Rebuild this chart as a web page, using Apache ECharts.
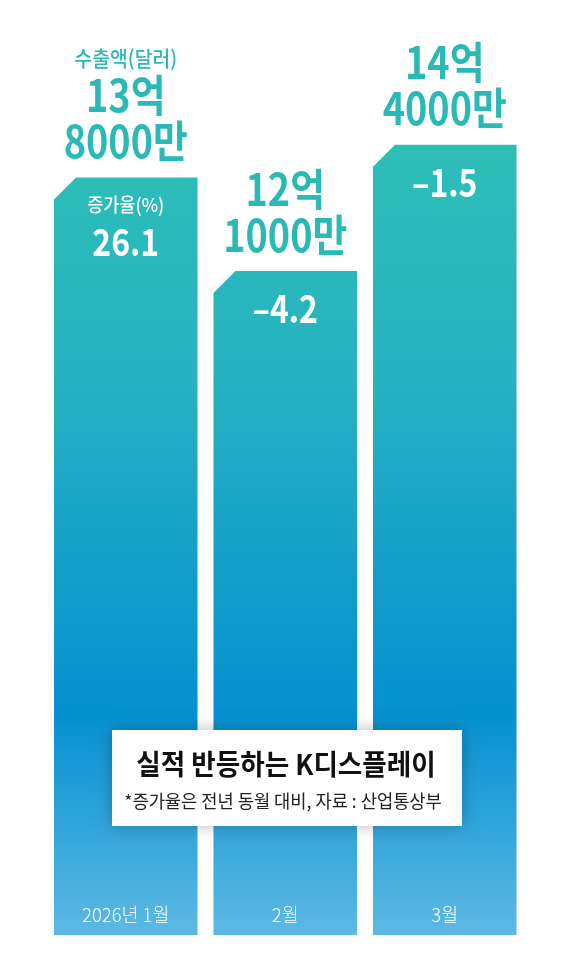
<!DOCTYPE html>
<html>
<head>
<meta charset="utf-8">
<script src="https://cdn.jsdelivr.net/npm/echarts@6/dist/echarts.min.js"></script>
</head>
<body style="margin:0;background:#fff;">
<div id="main" style="width:570px;height:975px;"></div>
<script type="text/javascript">
// 데이터
var categories = ['2026년 1월', '2월', '3월'];
var exportValues = [13.8, 12.1, 14.4];          // 억 달러
var exportEok = ['13억', '12억', '14억'];
var exportMan = ['8000만', '1000만', '4000만'];
var growthRates = [26.1, -4.2, -1.5];          // %

var FONT = '"Noto Sans CJK KR", "Noto Sans", sans-serif';
var TEAL = '#2ab9b5';

var barFill = new echarts.graphic.LinearGradient(0, 145, 0, 935, [
    {offset: 0, color: '#2dbeb7'},
    {offset: 0.3, color: '#26b2c2'},
    {offset: 0.72, color: '#0590d0'},
    {offset: 1, color: '#5db9e4'}
], true);

function fmtRate(v) {
    return v < 0 ? '\u2013' + Math.abs(v) : String(v);
}

function renderBar(params, api) {
    var i = params.dataIndex;
    var top = api.coord([api.value(0), api.value(1)]);
    var base = api.coord([api.value(0), 0]);
    var w = api.size([1, 0])[0] * 0.9;
    var cx = top[0], x0 = cx - w / 2, x1 = cx + w / 2;
    var yt = top[1], yb = base[1];
    var c = 22;
    var kids = [{
        type: 'polygon',
        shape: {points: [[x0, yt + c], [x0 + c, yt], [x1, yt], [x1, yb], [x0, yb]]},
        style: {fill: barFill}
    }];
    function txt(s, y, font, color, sx) {
        kids.push({
            type: 'text', x: cx, y: y, scaleX: sx || 1,
            style: {text: s, font: font, fill: color, textAlign: 'center', textVerticalAlign: 'middle'}
        });
    }
    // 수출액
    if (i === 0) txt('수출액(달러)', yt - 120, '500 21px ' + FONT, TEAL, 0.92);
    txt(exportEok[i], yt - 82, 'bold 44px ' + FONT, TEAL, 0.86);
    txt(exportMan[i], yt - 36, 'bold 44px ' + FONT, TEAL, 0.86);
    // 증가율
    if (i === 0) {
        txt('증가율(%)', yt + 27, '500 19px ' + FONT, '#fff', 0.92);
        txt(fmtRate(growthRates[i]), yt + 64, 'bold 38px ' + FONT, '#fff', 0.84);
    } else {
        txt(fmtRate(growthRates[i]), yt + 38, 'bold 38px ' + FONT, '#fff', 0.84);
    }
    // 월
    txt(categories[i], yb - 20, '300 19px ' + FONT, '#fff', 0.97);
    return {type: 'group', children: kids};
}

var myChart = echarts.init(document.getElementById('main'));
var option = {
    animation: false,
    grid: {left: 46, right: 45.5, top: 2, bottom: 40},
    xAxis: {type: 'category', data: categories, show: false},
    yAxis: {type: 'value', min: 0, max: 17, show: false},
    series: [{
        type: 'custom',
        z: 1,
        renderItem: renderBar,
        encode: {x: 0, y: 1},
        data: exportValues.map(function (v, i) { return [i, v]; })
    }],
    graphic: [{
        type: 'rect',
        z: 100,
        shape: {x: 112, y: 730, width: 350, height: 96},
        style: {fill: '#fff', shadowBlur: 14, shadowColor: 'rgba(0,0,0,0.28)'}
    }, {
        type: 'text', z: 101, x: 286, y: 764, scaleX: 0.95,
        style: {text: '실적 반등하는 K디스플레이', font: 'bold 28px ' + FONT, fill: '#111',
            textAlign: 'center', textVerticalAlign: 'middle'}
    }, {
        type: 'text', z: 101, x: 283, y: 801, scaleX: 0.98,
        style: {text: '*증가율은 전년 동월 대비, 자료 : 산업통상부', font: '18px ' + FONT, fill: '#222',
            textAlign: 'center', textVerticalAlign: 'middle'}
    }]
};
myChart.setOption(option);
</script>
</body>
</html>
